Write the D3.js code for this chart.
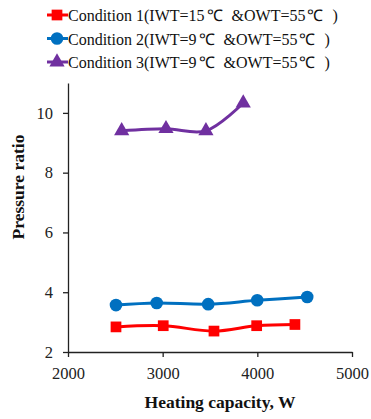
<!DOCTYPE html>
<html>
<head>
<meta charset="utf-8">
<script src="https://cdn.jsdelivr.net/npm/d3@7"></script>
<style>
  body { margin: 0; background: #fff; }
  svg text { font-family: "Liberation Serif", "Times New Roman", serif; }
</style>
</head>
<body>
<div id="chart"></div>
<script>
// values
const seriesNames = [
  "Condition 1(IWT=15\u2103&OWT=55\u2103)",
  "Condition 2(IWT=9\u2103&OWT=55\u2103)",
  "Condition 3(IWT=9\u2103&OWT=55\u2103)"
];
const cond1X = [2507, 3006, 3542, 3993, 4397];
const cond1Y = [2.84, 2.88, 2.70, 2.88, 2.92];
const cond2X = [2507, 2937, 3481, 3999, 4527];
const cond2Y = [3.57, 3.64, 3.60, 3.73, 3.84];
const cond3X = [2567, 3035, 3457, 3851];
const cond3Y = [9.40, 9.47, 9.40, 10.33];
const xTicks = [2000, 3000, 4000, 5000];
const yTicks = [2, 4, 6, 8, 10];

const width = 371, height = 419;
const margin = { left: 68, right: 19, top: 83, bottom: 67 };
const serif = "'Liberation Serif', 'Times New Roman', serif";

const svg = d3.select("#chart").append("svg")
  .attr("width", width)
  .attr("height", height);

const x = d3.scaleLinear().domain([2000, 5000]).range([margin.left, width - margin.right]);
const y = d3.scaleLinear().domain([2, 11]).range([height - margin.bottom, margin.top]);

const series = [
  { name: seriesNames[0], xs: cond1X, ys: cond1Y, color: "#ff0000", shape: "square" },
  { name: seriesNames[1], xs: cond2X, ys: cond2Y, color: "#0070c0", shape: "circle" },
  { name: seriesNames[2], xs: cond3X, ys: cond3Y, color: "#7030a0", shape: "triangle" }
];

// axes
const xAxis = svg.append("g")
  .attr("transform", `translate(0,${y(2)})`)
  .call(d3.axisBottom(x).tickValues(xTicks).tickFormat(d3.format("d"))
    .tickSize(5).tickPadding(10).tickSizeOuter(0));
const yAxis = svg.append("g")
  .attr("transform", `translate(${x(2000)},0)`)
  .call(d3.axisLeft(y).tickValues(yTicks).tickFormat(d3.format("d"))
    .tickSize(5).tickPadding(10).tickSizeOuter(0));

[xAxis, yAxis].forEach(a => {
  a.attr("font-family", serif);
  a.select(".domain").attr("stroke", "#222").attr("stroke-width", 1.3);
  a.selectAll(".tick line").attr("stroke", "#222").attr("stroke-width", 1.3);
  a.selectAll(".tick text")
    .attr("fill", "#222")
    .style("font-size", "16.5px");
});

// axis titles
svg.append("text")
  .attr("x", 220)
  .attr("y", 408)
  .attr("text-anchor", "middle")
  .style("font-size", "17.5px")
  .style("font-weight", "bold")
  .attr("fill", "#111")
  .text("Heating capacity, W");

svg.append("text")
  .attr("transform", "translate(24,187) rotate(-90)")
  .attr("text-anchor", "middle")
  .style("font-size", "17.5px")
  .style("font-weight", "bold")
  .attr("fill", "#111")
  .text("Pressure ratio");

const line = d3.line()
  .x(d => x(d[0]))
  .y(d => y(d[1]))
  .curve(d3.curveCatmullRom.alpha(0.5));

const symbolFor = {
  square: d3.symbol().type(d3.symbolSquare).size(115),
  circle: d3.symbol().type(d3.symbolCircle).size(125),
  triangle: d3.symbol().type(d3.symbolTriangle).size(100)
};

series.forEach(s => {
  const pts = s.xs.map((v, i) => [v, s.ys[i]]);
  svg.append("path")
    .datum(pts)
    .attr("d", line)
    .attr("fill", "none")
    .attr("stroke", s.color)
    .attr("stroke-width", 3);

  svg.selectAll(null)
    .data(pts)
    .join("path")
    .attr("d", symbolFor[s.shape]())
    .attr("transform", d => `translate(${x(d[0])},${y(d[1])})`)
    .attr("fill", s.color);
});

// legend, the degree sign gets a bit of room on both sides like the original
const legend = svg.append("g");
series.forEach((s, i) => {
  const ly = 15 + i * 23.5;
  legend.append("line")
    .attr("x1", 47).attr("x2", 68)
    .attr("y1", ly).attr("y2", ly)
    .attr("stroke", s.color)
    .attr("stroke-width", 3);
  legend.append("path")
    .attr("d", symbolFor[s.shape]())
    .attr("transform", `translate(57,${ly})`)
    .attr("fill", s.color);
  const t = legend.append("text")
    .attr("x", 68)
    .attr("y", ly + 6)
    .style("font-size", "16px")
    .attr("fill", "#111");
  s.name.split(/(\u2103)/).forEach(part => {
    if (!part) return;
    const ts = t.append("tspan").text(part);
    if (part === "\u2103") {
      ts.attr("dx", 2).style("letter-spacing", "9px");
    }
  });
});
</script>
</body>
</html>
